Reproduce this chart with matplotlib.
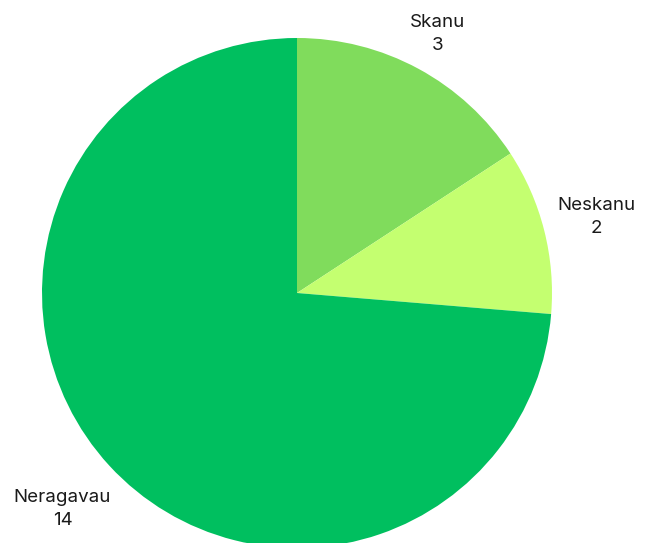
import numpy as np
import matplotlib.pyplot as plt

labels = ['Skanu', 'Neskanu', 'Neragavau']
values = [3, 2, 14]
colors = ['#80dc5c', '#c4ff70', '#00bf5f']
label_dist = [1.155, 1.21, 1.25]

plt.rcParams['font.family'] = ['Inter', 'DejaVu Sans']

fig = plt.figure(figsize=(6.54, 5.43), dpi=100)
ax = fig.add_axes([0, 0, 1, 1])

cx, cy, r = 297, 250, 255
wedges, _ = ax.pie(values, colors=colors, startangle=90, counterclock=False,
                   center=(cx, cy), radius=r, frame=True,
                   wedgeprops=dict(linewidth=0))
ax.set_xlim(0, 654)
ax.set_ylim(0, 543)
ax.set_aspect('equal')
ax.axis('off')

total = sum(values)
start = 90
for lab, v, d in zip(labels, values, label_dist):
    mid = np.deg2rad(start - v / total * 360 / 2)
    start -= v / total * 360
    x = cx + d * r * np.cos(mid)
    y = cy + d * r * np.sin(mid)
    ax.text(x, y, f'{lab}\n{v}', ha='center', va='center', fontsize=13.5,
            linespacing=1.45, color='#1a1a1a')

fig.savefig('out.png', dpi=100)
